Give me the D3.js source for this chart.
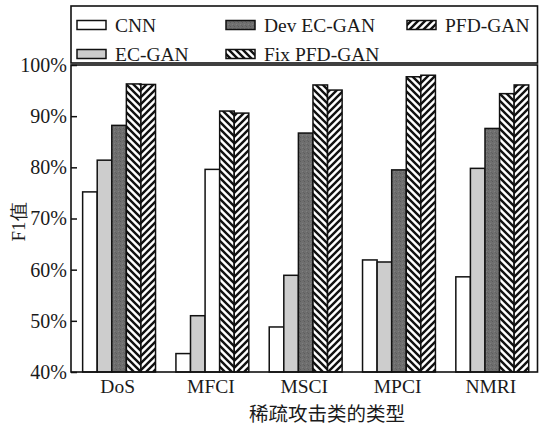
<!DOCTYPE html>
<html>
<head>
<meta charset="utf-8">
<script src="https://cdn.jsdelivr.net/npm/d3@7"></script>
<style>
  html, body { margin: 0; padding: 0; background: #fff; }
  svg { display: block; }
  text { font-family: "Liberation Serif", "Times New Roman", serif; fill: #1a1a1a; }
  .cjk { font-family: "Noto Sans CJK SC", sans-serif; }
</style>
</head>
<body>
<div id="chart"></div>
<script>
// Attack categories on the x axis
const categories = ["DoS", "MFCI", "MSCI", "MPCI", "NMRI"];

// Models compared, in bar order within each group
const seriesNames = ["CNN", "EC-GAN", "Dev EC-GAN", "Fix PFD-GAN", "PFD-GAN"];

// F1 score (%) per model, one value per category
const cnn        = [75.2, 43.6, 48.8, 61.9, 58.6];
const ecGan      = [81.4, 51.0, 58.9, 61.5, 79.8];
const devEcGan   = [88.2, 79.6, 86.7, 79.5, 87.6];
const fixPfdGan  = [96.3, 91.0, 96.1, 97.7, 94.4];
const pfdGan     = [96.2, 90.6, 95.1, 98.0, 96.1];

// Y axis ticks
const yTicks = [40, 50, 60, 70, 80, 90, 100];

const seriesValues = [cnn, ecGan, devEcGan, fixPfdGan, pfdGan];

const W = 539, H = 426;
const plot = { left: 71, right: 537.5, top: 65, bottom: 372 };

const svg = d3.select("#chart").append("svg")
  .attr("width", W).attr("height", H);

// Fill patterns: diagonal hatches and a speckled dark grey
const defs = svg.append("defs");

function hatch(id, d) {
  const p = defs.append("pattern")
    .attr("id", id)
    .attr("patternUnits", "userSpaceOnUse")
    .attr("width", 7).attr("height", 7);
  p.append("rect").attr("width", 7).attr("height", 7).attr("fill", "#fff");
  p.append("path").attr("d", d)
    .attr("stroke", "#111").attr("stroke-width", 2.4).attr("fill", "none");
}
hatch("hatchBack", "M0,0L7,7M-1,6L1,8M6,-1L8,1");
hatch("hatchFwd", "M0,7L7,0M-1,1L1,-1M6,8L8,6");

const speck = defs.append("pattern")
  .attr("id", "speckle")
  .attr("patternUnits", "userSpaceOnUse")
  .attr("width", 4).attr("height", 4);
speck.append("rect").attr("width", 4).attr("height", 4).attr("fill", "#6f6f6f");
speck.append("rect").attr("x", 0).attr("y", 1).attr("width", 1).attr("height", 1).attr("fill", "#5c5c5c");
speck.append("rect").attr("x", 2).attr("y", 3).attr("width", 1).attr("height", 1).attr("fill", "#808080");
speck.append("rect").attr("x", 3).attr("y", 0).attr("width", 1).attr("height", 1).attr("fill", "#626262");

const seriesFill = {
  "CNN": "#ffffff",
  "EC-GAN": "#cdcdcd",
  "Dev EC-GAN": "url(#speckle)",
  "Fix PFD-GAN": "url(#hatchBack)",
  "PFD-GAN": "url(#hatchFwd)"
};
// The Dev EC-GAN bar of the MFCI group is printed without fill
function barFill(cat, name) {
  if (cat === "MFCI" && name === "Dev EC-GAN") return "#ffffff";
  return seriesFill[name];
}

// Scales
const x0 = d3.scaleBand()
  .domain(categories)
  .range([plot.left, plot.right])
  .paddingInner(0).paddingOuter(0);

const x1 = d3.scaleBand()
  .domain(seriesNames)
  .range([0, x0.bandwidth()])
  .paddingInner(0).paddingOuter(0.7).align(0.57);

const y = d3.scaleLinear()
  .domain([40, 100])
  .range([plot.bottom, plot.top]);

// Bars
const rows = [];
categories.forEach((c, ci) => {
  seriesNames.forEach((s, si) => {
    rows.push({ cat: c, name: s, value: seriesValues[si][ci] });
  });
});

svg.append("g").selectAll("rect")
  .data(rows)
  .join("rect")
  .attr("x", d => x0(d.cat) + x1(d.name))
  .attr("y", d => y(d.value))
  .attr("width", x1.bandwidth())
  .attr("height", d => y(40) - y(d.value))
  .attr("fill", d => barFill(d.cat, d.name))
  .attr("stroke", "#111")
  .attr("stroke-width", 1.5);

// Plot frame
svg.append("rect")
  .attr("x", plot.left).attr("y", plot.top)
  .attr("width", plot.right - plot.left)
  .attr("height", plot.bottom - plot.top)
  .attr("fill", "none").attr("stroke", "#111").attr("stroke-width", 1.6);

// Y axis with inward ticks
const yAxis = svg.append("g")
  .attr("transform", `translate(${plot.left},0)`)
  .call(d3.axisLeft(y).tickValues(yTicks).tickFormat(d => d + "%")
    .tickSizeInner(-6).tickSizeOuter(0).tickPadding(4));
yAxis.select(".domain").remove();
yAxis.selectAll("line").attr("stroke", "#111").attr("stroke-width", 1.5);
yAxis.selectAll("text")
  .attr("font-size", 20)
  .attr("font-family", "Liberation Serif, serif")
  .attr("fill", "#1a1a1a");

// X axis labels
const xAxis = svg.append("g")
  .attr("transform", `translate(0,${plot.bottom})`)
  .call(d3.axisBottom(x0).tickSize(0).tickPadding(7));
xAxis.select(".domain").remove();
xAxis.selectAll("text")
  .attr("font-size", 19.5)
  .attr("font-family", "Liberation Serif, serif")
  .attr("fill", "#1a1a1a");

// Axis titles
svg.append("text")
  .attr("class", "cjk")
  .attr("x", 327)
  .attr("y", 420.5)
  .attr("text-anchor", "middle")
  .attr("font-size", 19.5)
  .text("稀疏攻击类的类型");

svg.append("text")
  .attr("transform", "translate(25,222) rotate(-90)")
  .attr("text-anchor", "middle")
  .attr("font-size", 19)
  .text("F1值");

// Legend box above the plot
const legend = svg.append("g");
legend.append("rect")
  .attr("x", plot.left).attr("y", 6)
  .attr("width", plot.right - plot.left).attr("height", 57)
  .attr("fill", "#fff").attr("stroke", "#111").attr("stroke-width", 1.6);

const legendCols = [77, 226, 407];
const legendRows = [25, 54];
seriesNames.forEach((s, i) => {
  const col = Math.floor(i / 2), row = i % 2;
  const g = legend.append("g")
    .attr("transform", `translate(${legendCols[col]},${legendRows[row]})`);
  g.append("rect")
    .attr("x", 0).attr("y", -4.5)
    .attr("width", 29).attr("height", 9)
    .attr("fill", seriesFill[s])
    .attr("stroke", "#111").attr("stroke-width", 1.5);
  g.append("text")
    .attr("x", 38).attr("y", 6.5)
    .attr("font-size", 19.5)
    .text(s);
});
</script>
</body>
</html>
